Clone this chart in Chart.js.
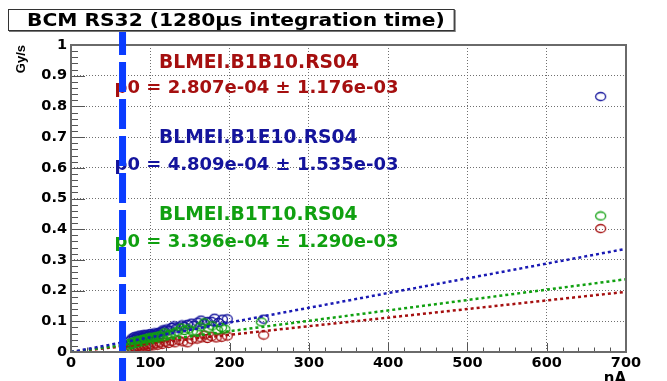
<!DOCTYPE html>
<html>
<head>
<meta charset="utf-8">
<script src="https://cdn.jsdelivr.net/npm/chart.js@4.4.1/dist/chart.umd.min.js"></script>
<style>
  html, body { margin: 0; padding: 0; background: #fff; }
  #wrap { width: 667px; height: 381px; }
</style>
</head>
<body>
<div id="wrap"><canvas id="chart" width="667" height="381"></canvas></div>
<script>
// BCM RS32 dose rate vs beam current, three BLM channels
const titleText = "BCM RS32 (1280\u03bcs integration time)";
const thresholdNA = 65;

const currentB1E10 = [75, 77, 79, 80, 82, 84, 85, 87, 88, 90, 91, 93, 95, 96, 98, 100, 101, 103, 105, 106, 108, 110, 112, 114, 116, 118, 121, 124, 127, 130, 133, 136, 140, 143, 147, 152, 155, 160, 164, 168, 172, 177, 181, 186, 191, 197, 243, 668];
const doseB1E10 = [0.038, 0.045, 0.041, 0.050, 0.046, 0.052, 0.043, 0.055, 0.049, 0.047, 0.056, 0.052, 0.058, 0.050, 0.054, 0.060, 0.053, 0.057, 0.062, 0.055, 0.059, 0.064, 0.058, 0.066, 0.072, 0.069, 0.075, 0.071, 0.080, 0.085, 0.078, 0.082, 0.088, 0.083, 0.090, 0.094, 0.087, 0.097, 0.104, 0.092, 0.099, 0.100, 0.110, 0.096, 0.107, 0.108, 0.107, 0.832];

const currentB1T10 = [72, 74, 76, 78, 80, 82, 84, 86, 88, 90, 92, 94, 96, 98, 100, 102, 104, 107, 110, 112, 115, 118, 121, 125, 130, 134, 139, 143, 148, 153, 159, 163, 168, 173, 178, 185, 190, 194, 240, 668];
const doseB1T10 = [0.020, 0.028, 0.024, 0.032, 0.027, 0.036, 0.030, 0.038, 0.033, 0.041, 0.035, 0.043, 0.038, 0.046, 0.040, 0.048, 0.042, 0.050, 0.045, 0.053, 0.048, 0.062, 0.055, 0.058, 0.062, 0.066, 0.078, 0.070, 0.075, 0.068, 0.065, 0.082, 0.095, 0.078, 0.085, 0.072, 0.080, 0.075, 0.098, 0.443];

const currentB1B10 = [70, 72, 74, 76, 78, 80, 82, 84, 86, 88, 90, 92, 94, 96, 98, 100, 103, 106, 109, 112, 115, 119, 123, 127, 131, 136, 141, 147, 152, 159, 164, 168, 172, 177, 183, 190, 197, 243, 668];
const doseB1B10 = [0.004, 0.010, 0.006, 0.014, 0.008, 0.016, 0.011, 0.018, 0.012, 0.020, 0.014, 0.022, 0.016, 0.024, 0.018, 0.025, 0.020, 0.027, 0.022, 0.030, 0.025, 0.032, 0.028, 0.035, 0.030, 0.038, 0.033, 0.030, 0.040, 0.042, 0.046, 0.055, 0.044, 0.050, 0.046, 0.048, 0.052, 0.055, 0.402];

// fitted lines, read at both ends of the axis
const fitX = [0, 700];
const fitB1B10 = [0, 0.196];
const fitB1E10 = [0, 0.336];
const fitB1T10 = [0, 0.237];

const channelNames = ["BLMEI.B1B10.RS04", "BLMEI.B1E10.RS04", "BLMEI.B1T10.RS04"];
const fitResults = ["p0 = 2.807e-04 \u00b1 1.176e-03", "p0 = 4.809e-04 \u00b1 1.535e-03", "p0 = 3.396e-04 \u00b1 1.290e-03"];
const labelY = [0.925, 0.681, 0.43];
const resultY = [0.844, 0.593, 0.343];

const RED = "#a50f0f";
const BLUE = "#14149c";
const GREEN = "#10a010";
const FONT = '"DejaVu Sans", sans-serif';

function points(xs, ys) {
  return xs.map((x, i) => ({ x, y: ys[i] }));
}

function ringMarker(color) {
  const c = document.createElement("canvas");
  c.width = 13;
  c.height = 11;
  const g = c.getContext("2d");
  g.strokeStyle = color;
  g.lineWidth = 1.3;
  g.beginPath();
  g.ellipse(6.5, 5.5, 5, 4, 0, 0, 2 * Math.PI);
  g.stroke();
  return c;
}

function fitLine(ys, color) {
  return {
    type: "line",
    data: points(fitX, ys),
    borderColor: color,
    borderWidth: 2.5,
    borderDash: [3, 3],
    pointRadius: 0,
    showLine: true,
  };
}

function markers(xs, ys, color) {
  return {
    data: points(xs, ys),
    pointStyle: ringMarker(color),
    borderColor: color,
    backgroundColor: color,
    pointRadius: 5,
  };
}

const annotations = {
  id: "annotations",
  afterDatasetsDraw(chart) {
    const { ctx, scales: { x, y } } = chart;
    const colors = [RED, BLUE, GREEN];
    ctx.save();
    ctx.textBaseline = "alphabetic";
    ctx.textAlign = "left";
    channelNames.forEach((name, i) => {
      ctx.fillStyle = colors[i];
      ctx.font = `bold 18.7px ${FONT}`;
      ctx.fillText(name, x.getPixelForValue(111), y.getPixelForValue(labelY[i]));
      ctx.font = `bold 18px ${FONT}`;
      ctx.fillText(fitResults[i], x.getPixelForValue(55), y.getPixelForValue(resultY[i]));
    });
    ctx.restore();
  },
};

const frameAndTicks = {
  id: "frameAndTicks",
  afterDraw(chart) {
    const { ctx, chartArea: a, scales: { x, y } } = chart;
    ctx.save();
    ctx.strokeStyle = "#555";
    ctx.lineWidth = 1;
    ctx.beginPath();
    for (let v = 0; v <= 700; v += 20) {
      const px = Math.round(x.getPixelForValue(v)) + 0.5;
      const len = v % 100 === 0 ? 9 : 4.5;
      ctx.moveTo(px, a.bottom);
      ctx.lineTo(px, a.bottom - len);
    }
    for (let i = 0; i <= 50; i++) {
      const py = Math.round(y.getPixelForValue(i / 50)) + 0.5;
      const len = i % 5 === 0 ? 14 : 7;
      ctx.moveTo(a.left, py);
      ctx.lineTo(a.left + len, py);
    }
    ctx.stroke();
    ctx.strokeStyle = "#6a6a6a";
    ctx.lineWidth = 2;
    ctx.strokeRect(a.left, a.top, a.width, a.height);

    // threshold line
    const tx = x.getPixelForValue(thresholdNA);
    ctx.strokeStyle = "#0a3cff";
    ctx.lineWidth = 7;
    ctx.setLineDash([30, 7]);
    ctx.lineDashOffset = 6;
    ctx.beginPath();
    ctx.moveTo(tx, 31);
    ctx.lineTo(tx, chart.height);
    ctx.stroke();
    ctx.setLineDash([]);

    // title box
    ctx.font = `bold 17px ${FONT}`;
    const sx = 1.19;
    const w = ctx.measureText(titleText).width * sx;
    const boxW = w + 28;
    ctx.fillStyle = "#fff";
    ctx.fillRect(8, 9, boxW, 22);
    ctx.strokeStyle = "#777";
    ctx.lineWidth = 2;
    ctx.beginPath();
    ctx.moveTo(9, 31);
    ctx.lineTo(8 + boxW + 1, 31);
    ctx.lineTo(8 + boxW + 1, 10);
    ctx.stroke();
    ctx.strokeStyle = "#333";
    ctx.lineWidth = 1;
    ctx.strokeRect(8.5, 9.5, boxW, 21);
    ctx.fillStyle = "#000";
    ctx.translate(27, 26);
    ctx.scale(sx, 1);
    ctx.textBaseline = "alphabetic";
    ctx.fillText(titleText, 0, 0);
    ctx.restore();
  },
};

new Chart(document.getElementById("chart"), {
  type: "scatter",
  data: {
    datasets: [
      fitLine(fitB1E10, "#1a1ab4"),
      fitLine(fitB1T10, GREEN),
      fitLine(fitB1B10, RED),
      markers(currentB1T10, doseB1T10, GREEN),
      markers(currentB1E10, doseB1E10, BLUE),
      markers(currentB1B10, doseB1B10, RED),
    ],
  },
  options: {
    responsive: false,
    animation: false,
    devicePixelRatio: 1,
    layout: { padding: { left: 0, right: 41, top: 45, bottom: 0 } },
    plugins: { legend: { display: false }, tooltip: { enabled: false } },
    scales: {
      x: {
        type: "linear",
        min: 0,
        max: 700,
        afterFit: (scale) => { scale.height = 29; },
        ticks: { stepSize: 100, padding: 3, maxRotation: 0, color: "#000", font: { family: FONT, size: 14.5, weight: "bold" } },
        grid: { color: "#6f6f6f", lineWidth: 1, drawTicks: false },
        border: { display: false, dash: [1, 2] },
        title: { display: true, text: "nA", align: "end", color: "#000", padding: { top: 0, bottom: -7 }, font: { family: FONT, size: 15, weight: "bold" } },
      },
      y: {
        min: 0,
        max: 1,
        afterFit: (scale) => { scale.width = 71; },
        ticks: {
          stepSize: 0.1,
          padding: 4,
          color: "#000",
          font: { family: FONT, size: 14.5, weight: "bold" },
          callback: (v) => (v === 0 ? "0" : v.toFixed(1).replace(/\.0$/, "")),
        },
        grid: { color: "#6f6f6f", lineWidth: 1, drawTicks: false },
        border: { display: false, dash: [1, 2] },
        title: { display: true, text: "Gy/s", align: "end", color: "#000", padding: { top: 14, bottom: 0 }, font: { family: '"Liberation Sans", sans-serif', size: 13, weight: "bold" } },
      },
    },
  },
  plugins: [annotations, frameAndTicks],
});
</script>
</body>
</html>
